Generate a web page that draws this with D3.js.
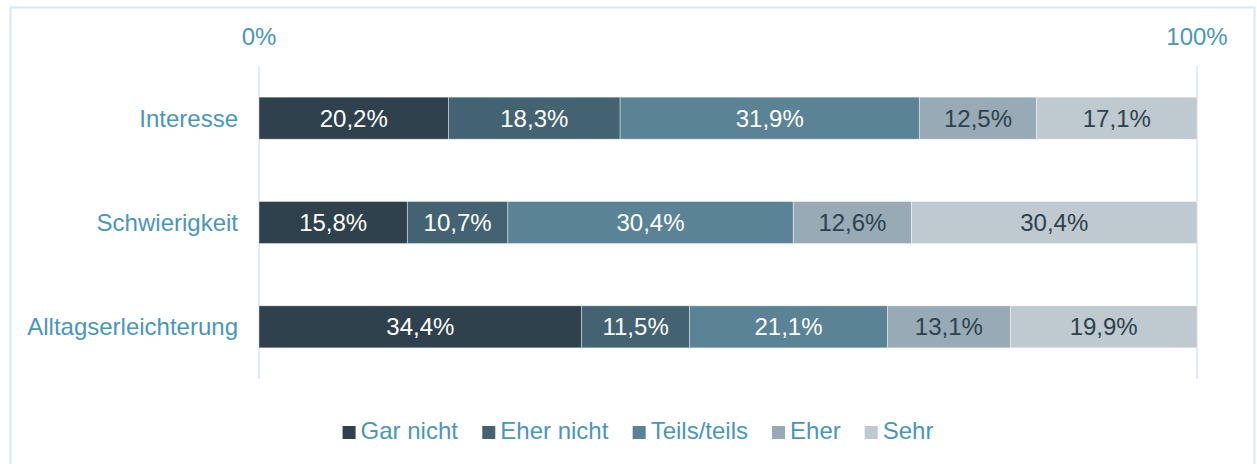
<!DOCTYPE html>
<html>
<head>
<meta charset="utf-8">
<script src="https://cdn.jsdelivr.net/npm/d3@7"></script>
<style>
  body { margin: 0; background: #fff; }
  svg { display: block; font-family: "Liberation Sans", Arial, sans-serif; }
</style>
</head>
<body>
<div id="chart"></div>
<script>
// data
var categories = ["Interesse", "Schwierigkeit", "Alltagserleichterung"];
var series = ["Gar nicht", "Eher nicht", "Teils/teils", "Eher", "Sehr"];
var values = [
  [20.2, 18.3, 31.9, 12.5, 17.1],
  [15.8, 10.7, 30.4, 12.6, 30.4],
  [34.4, 11.5, 21.1, 13.1, 19.9]
];
var tickValues = [0, 100];

var colours = ["#2e414d", "#436373", "#5a8396", "#97aab5", "#bfc9d0"];
var labelColours = ["#ffffff", "#ffffff", "#ffffff", "#2e414d", "#2e414d"];
var textColour = "#4a96ba";
var fontSize = "24px";

var W = 1257, H = 464;

var svg = d3.select("#chart").append("svg")
  .attr("width", W)
  .attr("height", H);

// outer frame
svg.append("rect")
  .attr("x", 10.5).attr("y", 7.5)
  .attr("width", 1244).attr("height", 470)
  .attr("fill", "none")
  .attr("stroke", "#d9e8f1")
  .attr("stroke-width", 2);

var xScale = d3.scaleLinear().domain([0, 100]).range([259, 1197]);
var yScale = d3.scaleBand()
  .domain(categories)
  .range([66, 379])
  .paddingInner(0.597)
  .paddingOuter(0.2985);

// gridlines
svg.selectAll(".grid")
  .data(tickValues)
  .enter()
  .append("line")
    .attr("class", "grid")
    .attr("x1", function(d) { return xScale(d); })
    .attr("x2", function(d) { return xScale(d); })
    .attr("y1", 66)
    .attr("y2", 379)
    .attr("stroke", "#d6e6ef")
    .attr("stroke-width", 1.5);

// top axis labels
svg.selectAll(".tick-label")
  .data(tickValues)
  .enter()
  .append("text")
    .attr("class", "tick-label")
    .attr("x", function(d) { return xScale(d); })
    .attr("y", 45)
    .attr("text-anchor", "middle")
    .attr("font-size", fontSize)
    .attr("fill", textColour)
    .text(function(d) { return d + "%"; });

// stack rows (100% stacked)
var rows = values.map(function(v, i) {
  var total = d3.sum(v), x0 = 0;
  return v.map(function(val, j) {
    var seg = {cat: categories[i], idx: j, value: val, x0: x0 / total * 100, x1: (x0 + val) / total * 100};
    x0 += val;
    return seg;
  });
});
var segs = d3.merge(rows);

svg.selectAll(".bar")
  .data(segs)
  .enter()
  .append("rect")
    .attr("class", "bar")
    .attr("x", function(d) { return xScale(d.x0); })
    .attr("y", function(d) { return yScale(d.cat); })
    .attr("width", function(d) { return xScale(d.x1) - xScale(d.x0); })
    .attr("height", yScale.bandwidth())
    .attr("fill", function(d) { return colours[d.idx]; })
    .attr("stroke", "#ffffff")
    .attr("stroke-opacity", 0.5)
    .attr("stroke-width", 0.8);

var fmt = function(v) { return v.toFixed(1).replace(".", ",") + "%"; };

svg.selectAll(".bar-label")
  .data(segs)
  .enter()
  .append("text")
    .attr("class", "bar-label")
    .attr("x", function(d) { return (xScale(d.x0) + xScale(d.x1)) / 2; })
    .attr("y", function(d) { return yScale(d.cat) + yScale.bandwidth() / 2; })
    .attr("dy", "0.36em")
    .attr("text-anchor", "middle")
    .attr("font-size", fontSize)
    .attr("fill", function(d) { return labelColours[d.idx]; })
    .text(function(d) { return fmt(d.value); });

// category labels
svg.selectAll(".cat-label")
  .data(categories)
  .enter()
  .append("text")
    .attr("class", "cat-label")
    .attr("x", 238)
    .attr("y", function(d) { return yScale(d) + yScale.bandwidth() / 2; })
    .attr("dy", "0.36em")
    .attr("text-anchor", "end")
    .attr("font-size", fontSize)
    .attr("fill", textColour)
    .text(function(d) { return d; });

// legend
var legend = svg.append("g").attr("class", "legend");
var items = legend.selectAll("g")
  .data(series)
  .enter()
  .append("g");
items.append("rect")
  .attr("width", 13).attr("height", 13)
  .attr("y", -13)
  .attr("fill", function(d, i) { return colours[i]; });
items.append("text")
  .attr("x", 18)
  .attr("y", 0)
  .attr("font-size", fontSize)
  .attr("fill", textColour)
  .text(function(d) { return d; });

var pos = 0;
items.each(function() {
  var w = this.getBBox().width;
  d3.select(this).attr("data-x", pos);
  pos += w + 24;
});
var legendW = pos - 24;
var startX = 638 - legendW / 2;
items.attr("transform", function() {
  return "translate(" + (startX + (+d3.select(this).attr("data-x"))) + ",439)";
});
</script>
</body>
</html>
